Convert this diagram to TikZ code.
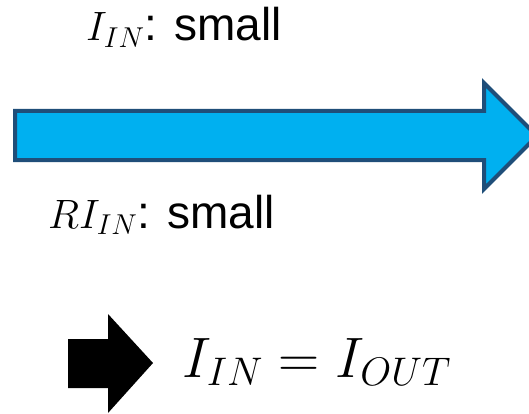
\documentclass[tikz,border=0pt]{standalone}
\usepackage{fix-cm}
\usepackage{fontspec}
\setmainfont{Liberation Sans}
\definecolor{arrowfill}{HTML}{00B0F0}
\definecolor{arrowline}{HTML}{1F4E79}
\newcommand{\mathpart}[1]{{\fontsize{41}{46}\selectfont$#1$}}
\tikzset{
  bigarrow/.style={fill=arrowfill, draw=arrowline, line width=4pt, line join=miter},
  blackarrow/.style={fill=black},
  lbl/.style={anchor=base west, inner sep=0pt, font=\fontsize{46}{52}\selectfont},
  eqn/.style={anchor=base west, inner sep=0pt, font=\fontsize{57}{64}\selectfont}
}
\begin{document}
\begin{tikzpicture}[x=1pt, y=-1pt]
        % Fix the frame
        \useasboundingbox (0,0) rectangle (529,414);
        \clip (0,0) rectangle (529,414);

        % Draw the wide blue arrow
        \draw[bigarrow] (15,111) -- (484,111) -- (484,83) -- (537,136)
            -- (484,189) -- (484,160) -- (15,160) -- cycle;

        % Labels above and below it
        \node[lbl] (top) at (86,41) {\mathpart{I_{IN}}: small};
        \node[lbl] (bottom) at (48,228) {\mathpart{RI_{IN}}: small};

        % Draw the black arrow
        \fill[blackarrow] (68,339) -- (108,339) -- (108,314) -- (153,363)
            -- (108,413) -- (108,388) -- (68,388) -- cycle;

        % Add the result
        \node[eqn] (result) at (182,377) {$I_{IN}=I_{OUT}$};
    \end{tikzpicture}
\end{document}
